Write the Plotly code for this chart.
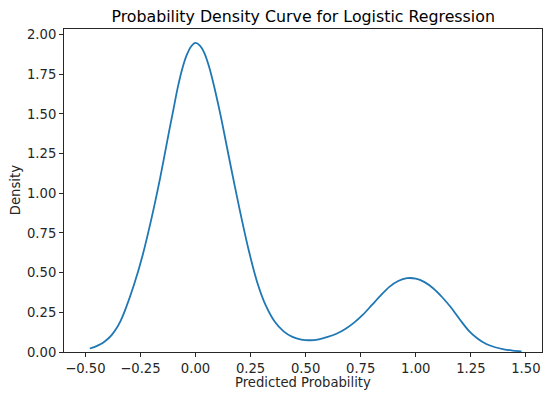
import plotly.graph_objects as go

# Estimated density of predicted probabilities (KDE curve values)
pred_prob = [
    -0.48, -0.46, -0.44, -0.42, -0.40, -0.38, -0.36, -0.34, -0.32, -0.28,
    -0.24, -0.20, -0.16, -0.12,
    -0.10, -0.08, -0.06, -0.04, -0.02, 0.00, 0.02, 0.04, 0.06, 0.08,
    0.10, 0.12, 0.16, 0.20, 0.24, 0.28,
    0.32, 0.36, 0.40, 0.44, 0.48, 0.52, 0.56, 0.60, 0.64, 0.68,
    0.72, 0.76, 0.80, 0.84, 0.88, 0.92, 0.96, 1.00, 1.04, 1.08,
    1.12, 1.16, 1.20, 1.24, 1.28, 1.32, 1.36, 1.40, 1.44, 1.48,
]
density = [
    0.022, 0.031, 0.043, 0.059, 0.080, 0.108, 0.146, 0.196, 0.262, 0.420,
    0.610, 0.840, 1.100, 1.390,
    1.530, 1.670, 1.785, 1.870, 1.925, 1.947, 1.930, 1.885, 1.805, 1.700,
    1.580, 1.450, 1.170, 0.900, 0.650, 0.440,
    0.290, 0.190, 0.130, 0.095, 0.078, 0.074, 0.080, 0.095, 0.115, 0.145,
    0.185, 0.235, 0.295, 0.355, 0.410, 0.447, 0.465, 0.462, 0.440, 0.400,
    0.345, 0.280, 0.205, 0.135, 0.085, 0.050, 0.030, 0.017, 0.009, 0.004,
]

x_ticks = [-0.5, -0.25, 0.0, 0.25, 0.5, 0.75, 1.0, 1.25, 1.5]
y_ticks = [0.0, 0.25, 0.5, 0.75, 1.0, 1.25, 1.5, 1.75, 2.0]

W, H = 543, 393
L, R, T, B = 64.3, 1.0, 29.3, 41.3
FONT = "DejaVu Sans"
TXT = "#262626"
AX = "#262626"
LABEL_SIZE = 13.2
TITLE_SIZE = 15.8

fig = go.Figure()
fig.add_trace(go.Scatter(
    x=pred_prob, y=density, mode="lines",
    line=dict(color="#1f77b4", width=1.8, shape="spline", smoothing=0.8),
    hoverinfo="skip", showlegend=False,
))

axis_common = dict(
    showgrid=False, zeroline=False, showline=True, linecolor=AX, linewidth=1,
    mirror=True, ticks="outside", ticklen=4, tickwidth=1, tickcolor=AX,
    tickfont=dict(family=FONT, size=LABEL_SIZE, color=TXT), tickformat=".2f",
)

fig.update_layout(
    width=W, height=H,
    margin=dict(l=L, r=R, t=T, b=B, pad=0),
    paper_bgcolor="white", plot_bgcolor="white",
    xaxis=dict(range=[-0.597, 1.573], tickvals=x_ticks, **axis_common),
    yaxis=dict(range=[0, 2.035], tickvals=y_ticks, **axis_common),
    title=dict(
        text="Probability Density Curve for Logistic Regression",
        font=dict(family=FONT, size=TITLE_SIZE, color="black"),
        x=(L + (W - R)) / 2 / W, xanchor="center",
        y=1 - 16 / H, yanchor="middle", yref="container",
    ),
)

plot_w = W - L - R
plot_h = H - T - B
fig.add_annotation(
    text="Predicted Probability", xref="paper", yref="paper",
    x=0.5, y=(H - B - 382) / plot_h, xanchor="center", yanchor="middle",
    showarrow=False, font=dict(family=FONT, size=LABEL_SIZE, color=TXT),
)
fig.add_annotation(
    text="Density", xref="paper", yref="paper", textangle=-90,
    x=(16 - L) / plot_w, y=0.5, xanchor="center", yanchor="middle",
    showarrow=False, font=dict(family=FONT, size=LABEL_SIZE, color=TXT),
)

fig.write_html("out.html")
